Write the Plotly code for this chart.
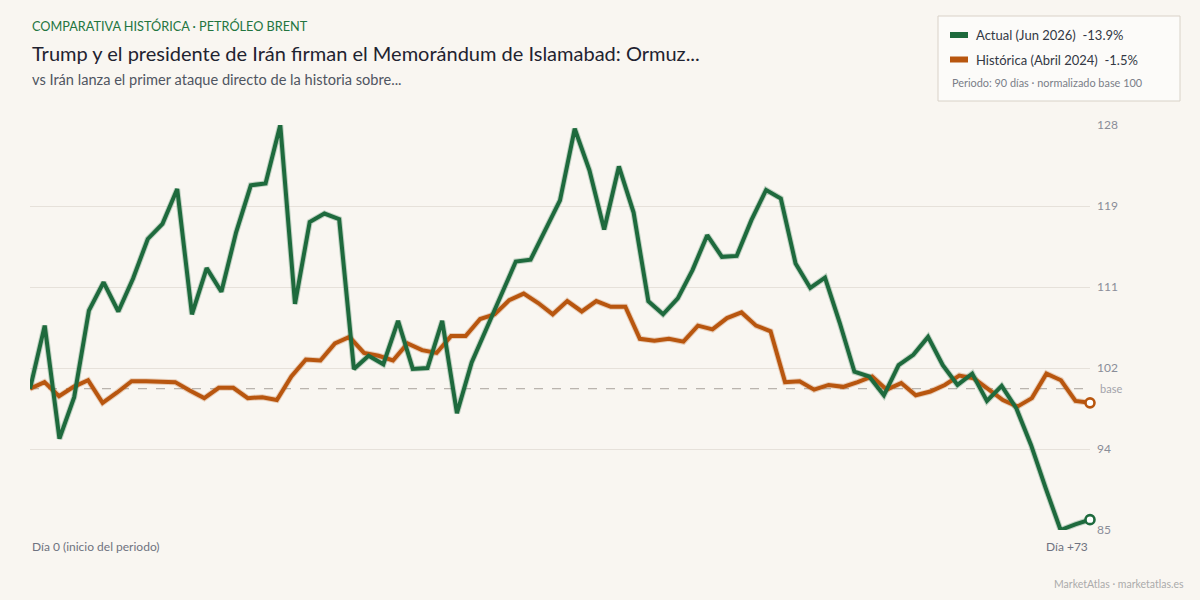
import plotly.graph_objects as go

# ---------------- data ----------------
actual_label = "Actual (Jun 2026)"
historic_label = "Histórica (Abril 2024)"

actual_values = [
    100.0, 106.7, 94.7, 99.1, 108.3, 111.3, 108.2, 111.7, 115.9, 117.5,
    121.2, 107.9, 112.8, 110.3, 116.6, 121.6, 121.8, 128.0, 109.0, 117.7,
    118.6, 118.0, 102.1, 103.5, 102.6, 107.2, 102.1, 102.2, 107.2, 97.4,
    102.8, 106.4, 109.9, 113.5, 113.7, 116.8, 120.0, 127.6, 123.2, 116.9,
    123.6, 118.7, 109.3, 107.9, 109.6, 112.6, 116.3, 114.0, 114.1, 117.9,
    121.1, 120.2, 113.3, 110.7, 111.8, 107.0, 101.8, 101.3, 99.3, 102.5,
    103.6, 105.5, 102.5, 100.4, 101.6, 98.7, 100.3, 97.9, 94.0, 89.4,
    85.0, 85.6, 86.1,
]

historic_values = [
    100.0, 100.7, 99.2, 100.2, 100.9, 98.5, 99.6, 100.8, 100.8, 100.8,
    100.7, 99.8, 99.0, 100.1, 100.1, 99.0, 99.1, 98.8, 101.3, 103.1,
    103.0, 104.8, 105.5, 103.8, 103.5, 103.0, 104.8, 104.1, 103.8, 105.6,
    105.6, 107.4, 107.9, 109.4, 110.1, 109.1, 107.9, 109.3, 108.2, 109.3,
    108.7, 108.7, 105.3, 105.1, 105.3, 105.0, 106.7, 106.3, 107.5, 108.1,
    106.7, 106.1, 100.7, 100.8, 99.9, 100.4, 100.2, 100.7, 101.3, 99.9,
    100.6, 99.3, 99.7, 100.4, 101.4, 101.1, 100.0, 98.8, 98.1, 99.0,
    101.6, 100.9, 98.7, 98.5,
]

base_value = 100
y_min, y_max = 85, 128
x_span = 73
x_start_label = "Día 0 (inicio del periodo)"
x_end_label = "Día +73"

kicker = "COMPARATIVA HISTÓRICA · PETRÓLEO BRENT"
title = "Trump y el presidente de Irán firman el Memorándum de Islamabad: Ormuz..."
subtitle = "vs Irán lanza el primer ataque directo de la historia sobre..."
legend_note = "Periodo: 90 días · normalizado base 100"
footer = "MarketAtlas · marketatlas.es"

# ---------------- styles ----------------
FONT = "Lato"
BG = "#f9f6f1"
GREEN = "#1e6a3d"
ORANGE = "#b8560f"
GRID = "#e6e1da"
AXIS_TXT = "#8a8d98"


def pct(values):
    return (values[-1] / values[0] - 1) * 100


def xs(values):
    n = len(values)
    return [i * x_span / (n - 1) for i in range(n)]


actual_x = xs(actual_values)
historic_x = xs(historic_values)

fig = go.Figure()

# subtle halo under the lines
for xv, yv, col in [(historic_x, historic_values, ORANGE), (actual_x, actual_values, GREEN)]:
    fig.add_trace(go.Scatter(x=xv, y=yv, mode="lines",
                             line=dict(color=col, width=6), opacity=0.25,
                             hoverinfo="skip", showlegend=False))

fig.add_trace(go.Scatter(x=historic_x, y=historic_values, mode="lines",
                         line=dict(color=ORANGE, width=4), name=historic_label,
                         showlegend=False))
fig.add_trace(go.Scatter(x=actual_x, y=actual_values, mode="lines",
                         line=dict(color=GREEN, width=4), name=actual_label,
                         showlegend=False))

# end markers
for xv, yv, col in [(historic_x, historic_values, ORANGE), (actual_x, actual_values, GREEN)]:
    fig.add_trace(go.Scatter(x=[xv[-1]], y=[yv[-1]], mode="markers", cliponaxis=False,
                             marker=dict(size=9, color="#ffffff", symbol="circle",
                                         line=dict(color=col, width=2.6)),
                             hoverinfo="skip", showlegend=False))

tickvals = [y_min + k * (y_max - y_min) / 5 for k in range(6)]
ticktext = [str(round(v)) for v in tickvals]

PH = 405.0  # plot height in px
PW = 1060.0


def py(pix):
    return (530 - pix) / PH


def px(pix):
    return (pix - 30) / PW


shapes = []
# base line
shapes.append(dict(type="line", xref="paper", x0=0, x1=1, yref="y", y0=base_value, y1=base_value,
                   line=dict(color="#a8a29b", width=1, dash="dash"), layer="below"))

ann = []
ann.append(dict(text=kicker, x=0, y=py(26), xref="paper", yref="paper", xanchor="left",
                yanchor="middle", showarrow=False,
                font=dict(family=FONT, size=12.7, color="#23753f")))
ann.append(dict(text=title, x=0, y=py(53), xref="paper", yref="paper", xanchor="left",
                yanchor="middle", showarrow=False,
                font=dict(family=FONT, size=20, color="#1f2330")))
ann.append(dict(text=subtitle, x=0, y=py(80), xref="paper", yref="paper", xanchor="left",
                yanchor="middle", showarrow=False,
                font=dict(family=FONT, size=14.6, color="#4f5561")))
ann.append(dict(text="base", x=1, xshift=8, y=base_value, xref="paper", yref="y",
                xanchor="left", yanchor="middle", showarrow=False,
                font=dict(family=FONT, size=11, color="#a3a3aa")))
ann.append(dict(text=x_start_label, x=0, y=py(546), xref="x", yref="paper",
                xanchor="left", yanchor="middle", showarrow=False,
                font=dict(family=FONT, size=12, color="#6f7380")))
ann.append(dict(text=x_end_label, x=x_span, y=py(546), xref="x", yref="paper",
                xanchor="right", yanchor="middle", showarrow=False,
                font=dict(family=FONT, size=12, color="#6f7380")))
ann.append(dict(text=footer, x=px(1186), y=py(584), xref="paper", yref="paper",
                xanchor="right", yanchor="middle", showarrow=False,
                font=dict(family=FONT, size=10.5, color="#ababab")))

# legend box
shapes.append(dict(type="rect", xref="paper", yref="paper",
                   x0=px(938), x1=px(1180), y0=py(101), y1=py(16),
                   fillcolor="#fcfbf9", line=dict(color="#d9d2c8", width=1), layer="above"))
legend_items = [
    (actual_label, pct(actual_values), GREEN, 35),
    (historic_label, pct(historic_values), ORANGE, 59.5),
]
for lab, p, col, yc in legend_items:
    shapes.append(dict(type="rect", xref="paper", yref="paper",
                       x0=px(950), x1=px(968), y0=py(yc + 3), y1=py(yc - 3),
                       fillcolor=col, line=dict(width=0), layer="above"))
    ann.append(dict(text=f"{lab}  {p:.1f}%", x=px(974), y=py(yc), xref="paper", yref="paper",
                    xanchor="left", yanchor="middle", showarrow=False,
                    font=dict(family=FONT, size=13, color="#333844")))
ann.append(dict(text=legend_note, x=px(950), y=py(82), xref="paper", yref="paper",
                xanchor="left", yanchor="middle", showarrow=False,
                font=dict(family=FONT, size=10.9, color="#7a7e88")))

fig.update_layout(
    width=1200, height=600,
    paper_bgcolor=BG, plot_bgcolor=BG,
    margin=dict(l=30, r=110, t=125, b=70),
    font=dict(family=FONT, color="#333"),
    hovermode=False,
    xaxis=dict(range=[0, x_span], showgrid=False, zeroline=False, showticklabels=False,
               showline=False, fixedrange=True),
    yaxis=dict(range=[y_min, y_max], side="right", tickvals=tickvals, ticktext=ticktext,
               showgrid=True, gridcolor=GRID, gridwidth=1, zeroline=False, showline=False,
               ticks="", tickfont=dict(family=FONT, size=12, color=AXIS_TXT),
               ticklabelstandoff=6, fixedrange=True),
    shapes=shapes,
    annotations=ann,
)

fig.write_html("out.html")
